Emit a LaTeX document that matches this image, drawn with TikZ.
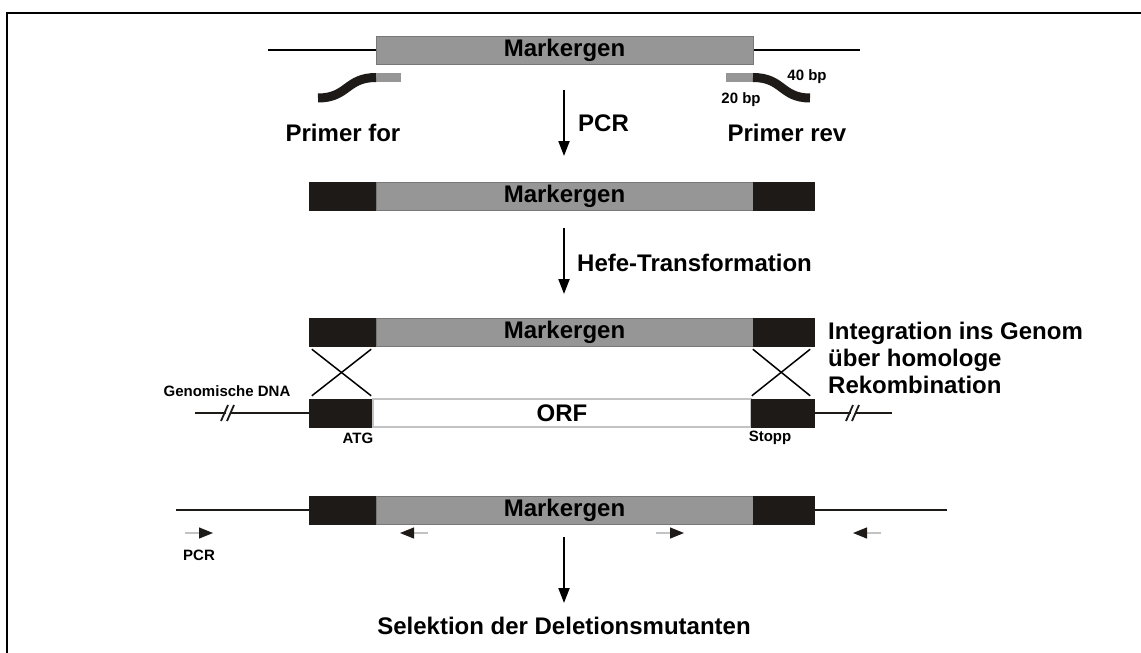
\documentclass[tikz,border=0pt]{standalone}
\usepackage{fontspec}
\setmainfont{Liberation Sans}
\usetikzlibrary{arrows.meta}
\definecolor{gris}{RGB}{150,150,150}
\definecolor{grisborde}{RGB}{120,120,120}
\definecolor{grisclaro}{RGB}{195,195,195}
\definecolor{negro}{RGB}{30,26,24}
\newcommand{\grande}{\fontsize{24}{27}\selectfont\bfseries}
\newcommand{\chico}{\fontsize{15}{17}\selectfont\bfseries}
\tikzset{
  gen/.style={draw=grisborde, fill=gris, minimum height=28pt, inner sep=0pt, font=\grande},
  orf/.style={draw=grisclaro, line width=1.2pt, fill=white, minimum height=28pt, inner sep=0pt, font=\grande},
  flanco/.style={draw=negro, fill=negro, minimum height=28pt, inner sep=0pt},
  adn/.style={line width=1.8pt, negro},
  flecha/.style={line width=2pt, -{Triangle[length=15pt, width=11pt]}},
  flechita/.style={line width=1.2pt, grisclaro, -{Triangle[length=14pt, width=11pt, color=negro]}},
  cebador/.style={line width=9pt, negro},
  etiq/.style={font=\grande, inner sep=0pt},
  etiqchica/.style={font=\chico, inner sep=0pt}
}
\begin{document}
\begin{tikzpicture}[x=1pt, y=-1pt]
\useasboundingbox (0,0) rectangle (1141,653);
% Marco
\draw[line width=2pt] (7,654) -- (7,13) -- (1142,13);

% Fila 1: el gen marcador y los cebadores
\coordinate (a1) at (268,50);
\coordinate (b1) at (860,50);
\draw[line width=1.5pt] (a1) -- (b1);
\node[gen, minimum width=377pt] (mk1) at (564.5,50) {Markergen};
\fill[gris] (376,73) rectangle (401,82);
\draw[cebador] (318,98) .. controls (348,98) and (346,77.5) .. (376,77.5);
\fill[gris] (726,73) rectangle (753,82);
\draw[cebador] (753,77.5) .. controls (783,77.5) and (781,98) .. (810,98);
\node[etiq] (pfor) at (343,133) {Primer for};
\node[etiq] (prev) at (787,133) {Primer rev};
\node[etiqchica] (bp40) at (807,77) {40 bp};
\node[etiqchica] (bp20) at (741,100) {20 bp};

% Flecha de la PCR
\coordinate (p1) at (564,90);
\coordinate (p2) at (564,156);
\draw[flecha] (p1) -- (p2);
\node[etiq, anchor=west] (pcr) at (578,123) {PCR};

% Fila 2: producto de la PCR
\node[flanco, minimum width=67pt] (izq2) at (342.5,196) {};
\node[gen, minimum width=377pt] (mk2) at (564.5,196) {Markergen};
\node[flanco, minimum width=61pt] (der2) at (783.5,196) {};

% Flecha de la transformacion
\coordinate (h1) at (564,228);
\coordinate (h2) at (564,294);
\draw[flecha] (h1) -- (h2);
\node[etiq, anchor=west] (hefe) at (577,263) {Hefe-Transformation};

% Fila 3: recombinacion homologa
\node[flanco, minimum width=67pt] (izq3) at (342.5,332) {};
\node[gen, minimum width=377pt] (mk3) at (564.5,332) {Markergen};
\node[flanco, minimum width=61pt] (der3) at (783.5,332) {};
\node[flanco, minimum width=64pt] (izqg) at (341,413) {};
\node[orf, minimum width=378pt] (orf) at (562,413) {ORF};
\node[flanco, minimum width=63pt] (derg) at (782.5,413) {};
\draw[line width=1.5pt] ([shift={(3,3)}]izq3.south west) -- ([shift={(-2,-3)}]izqg.north east);
\draw[line width=1.5pt] ([shift={(-5,3)}]izq3.south east) -- ([shift={(3,-3)}]izqg.north west);
\draw[line width=1.5pt] ([shift={(0,3)}]der3.south west) -- ([shift={(-4,-3)}]derg.north east);
\draw[line width=1.5pt] ([shift={(-4,3)}]der3.south east) -- ([shift={(1,-3)}]derg.north west);

% ADN genomico con cortes
\coordinate (g1) at (195,413);
\coordinate (g2) at (226,413);
\coordinate (g3) at (231,413);
\draw[adn] (g1) -- (g2);
\draw[adn] (g3) -- (izqg.west);
\draw[adn] (221,421) -- (228,405);
\draw[adn] (227,421) -- (234,405);
\coordinate (g4) at (851,413);
\coordinate (g5) at (856,413);
\coordinate (g6) at (892,413);
\draw[adn] (derg.east) -- (g4);
\draw[adn] (g5) -- (g6);
\draw[adn] (846,421) -- (853,405);
\draw[adn] (852,421) -- (859,405);
\node[etiqchica] (gdna) at (227,391) {Genomische DNA};
\node[etiqchica] (atg) at (358,438) {ATG};
\node[etiqchica] (stopp) at (770,438) {Stopp};
\node[etiq, anchor=west, align=left] (integ) at (828,358) {Integration ins Genom\\über homologe\\Rekombination};

% Fila 4: mutante de delecion
\coordinate (m1) at (176,510);
\coordinate (m2) at (947,510);
\node[flanco, minimum width=67pt] (izq4) at (342.5,510) {};
\node[gen, minimum width=377pt] (mk4) at (564.5,510) {Markergen};
\node[flanco, minimum width=61pt] (der4) at (783.5,510) {};
\draw[adn] (m1) -- (izq4.west);
\draw[adn] (der4.east) -- (m2);

% Cebadores de control
\coordinate (c1) at (185,533);
\coordinate (c2) at (213,533);
\coordinate (c3) at (428,533);
\coordinate (c4) at (400,533);
\coordinate (c5) at (656,533);
\coordinate (c6) at (684,533);
\coordinate (c7) at (881,533);
\coordinate (c8) at (853,533);
\draw[flechita] (c1) -- (c2);
\draw[flechita] (c3) -- (c4);
\draw[flechita] (c5) -- (c6);
\draw[flechita] (c7) -- (c8);
\node[etiqchica] (pcr2) at (199,555) {PCR};

% Seleccion
\coordinate (s1) at (564,537);
\coordinate (s2) at (564,603);
\draw[flecha] (s1) -- (s2);
\node[etiq] (sel) at (564,626) {Selektion der Deletionsmutanten};
\end{tikzpicture}
\end{document}
